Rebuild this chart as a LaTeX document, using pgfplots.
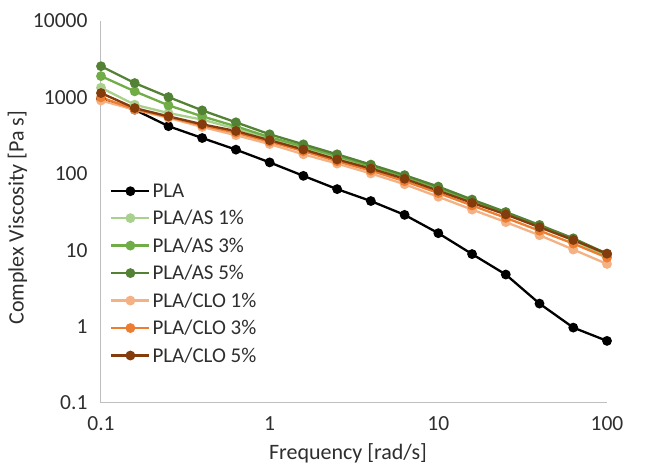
\documentclass[border=0pt]{standalone}
\usepackage{pgfplots}
\pgfplotsset{compat=1.18}
\usepackage{pgfplotstable}
\usepackage{fontspec}
\setmainfont{Carlito}
\usetikzlibrary{calc}
\definecolor{asone}{HTML}{A9D18E}
\definecolor{asthree}{HTML}{70AD47}
\definecolor{asfive}{HTML}{548235}
\definecolor{cloone}{HTML}{F4B183}
\definecolor{clothree}{HTML}{ED7D31}
\definecolor{clofive}{HTML}{843C0C}
\definecolor{axgray}{HTML}{BFBFBF}
\pgfplotstableread{
f pla as1 as3 as5 clo1 clo3 clo5
0.1 950 1340 1900 2560 910 1000 1140
0.1585 690 802 1200 1540 690 700 725
0.2512 420 624 787 1010 540 555 565
0.3981 294 512 565 676 410 430 445
0.631 207 390 418 472 320 345 363
1 141 292 302 329 245 263 275
1.585 94 220 228 243 180 198 208
2.512 63 165 170 180 136 146 154
3.981 44 122 126 132 101 110 117
6.31 29 89 92 96 73 80 86
10 16.7 63 65 68 50 56 60
15.85 8.9 43 44 46 34 38.5 41.7
25.12 4.8 29.5 30.5 31.6 23.3 26.5 29.4
39.81 2.0 20 20.6 21.4 15.7 18 20
63.1 0.97 13.4 13.8 14.3 10.2 12.2 13.6
100 0.65 8.4 8.7 9.0 6.6 8.0 9.0
}\datatable
\begin{document}
\begin{tikzpicture}
\begin{axis}[
  name=ax,
  scale only axis,
  width=506pt, height=382pt,
  xmode=log, ymode=log,
  xmin=0.1, xmax=100, ymin=0.1, ymax=10000,
  axis x line=bottom, axis y line=left,
  axis line style={axgray, line width=1pt, -},
  xtick={0.1,1,10,100}, xticklabels={0.1,1,10,100},
  ytick={0.1,1,10,100,1000,10000}, yticklabels={0.1,1,10,100,1000,10000},
  minor tick num=0, minor tick style={draw=none},
  major tick length=0pt,
  tick label style={font=\fontsize{21.5}{25}\selectfont, text=black!82},
  xticklabel style={yshift=-10pt},
  yticklabel style={xshift=-10pt},
  label style={font=\fontsize{22}{26}\selectfont, text=black!82},
  xlabel={Frequency [rad/s]},
  ylabel={Complex Viscosity [Pa s]},
  xlabel style={yshift=-6pt, xshift=-6pt},
  ylabel style={at={(ticklabel cs:0.485)}, yshift=-1pt},
  clip=false,
  every axis plot/.append style={line width=2.3pt, mark=*, mark size=3.7pt},
  legend style={draw=none, fill=none, at={(axis description cs:0.012,0.585)}, anchor=north west,
    font=\fontsize{21}{24}\selectfont, row sep=7.4pt, text=black!82},
  legend cell align=left,
  legend image code/.code={\draw[#1, mark repeat=2, mark phase=2] plot coordinates {(0pt,0pt) (19pt,0pt) (38pt,0pt)};},
]
\addplot[black, mark options={fill=black}] table[x=f,y=pla]{\datatable};
\addlegendentry{PLA}
\addplot[asone, mark options={fill=asone}] table[x=f,y=as1]{\datatable};
\addlegendentry{PLA/AS 1\%}
\addplot[asthree, mark options={fill=asthree}] table[x=f,y=as3]{\datatable};
\addlegendentry{PLA/AS 3\%}
\addplot[asfive, mark options={fill=asfive}] table[x=f,y=as5]{\datatable};
\addlegendentry{PLA/AS 5\%}
\addplot[cloone, mark options={fill=cloone}] table[x=f,y=clo1]{\datatable};
\addlegendentry{PLA/CLO 1\%}
\addplot[clothree, mark options={fill=clothree}] table[x=f,y=clo3]{\datatable};
\addlegendentry{PLA/CLO 3\%}
\addplot[clofive, mark options={fill=clofive}] table[x=f,y=clo5]{\datatable};
\addlegendentry{PLA/CLO 5\%}
\end{axis}
\path[use as bounding box] ($(ax.south west)+(-101pt,-61pt)$) rectangle +(657pt,464pt);
\end{tikzpicture}
\end{document}
